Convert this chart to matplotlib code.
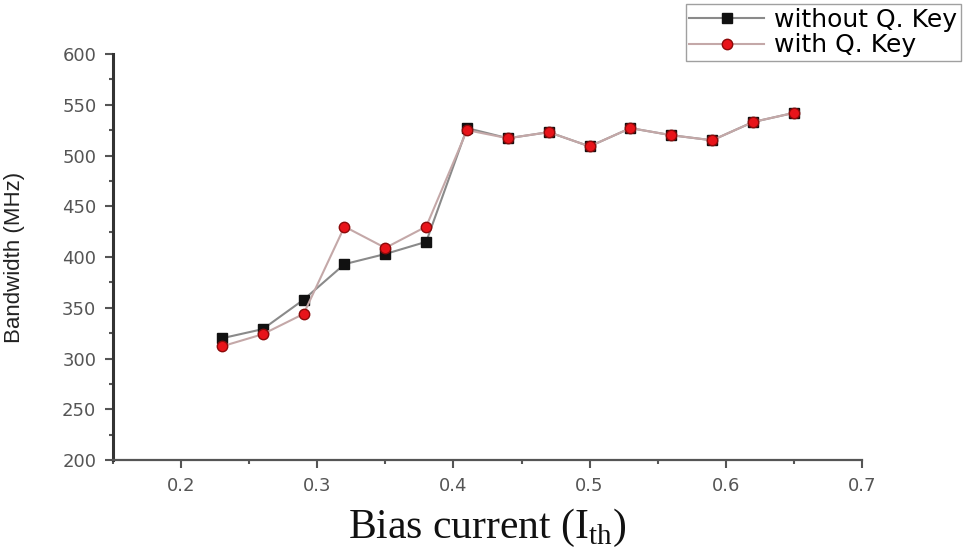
import numpy as np
import matplotlib.pyplot as plt
from matplotlib.ticker import MultipleLocator

# bias current in units of threshold current
bias = [0.23, 0.26, 0.29, 0.32, 0.35, 0.38, 0.41, 0.44,
        0.47, 0.50, 0.53, 0.56, 0.59, 0.62, 0.65]

# modulation bandwidth (MHz)
bw_without_key = [320, 329, 358, 393, 403, 415, 527, 517,
                  523, 509, 527, 520, 515, 533, 542]
bw_with_key = [312, 324, 344, 430, 409, 430, 525, 517,
               523, 509, 527, 520, 515, 533, 542]

x_ticks = [0.2, 0.3, 0.4, 0.5, 0.6, 0.7]
y_ticks = [200, 250, 300, 350, 400, 450, 500, 550, 600]


def main():
    plt.rcParams['font.family'] = ['DejaVu Sans']
    plt.rcParams['mathtext.fontset'] = 'custom'
    plt.rcParams['mathtext.rm'] = 'Liberation Serif'

    fig = plt.figure(figsize=(9.74, 5.51), dpi=100)
    ax = fig.add_axes([0.116, 0.165, 0.769, 0.737])

    ax.plot(bias, bw_without_key, "-", color="#8a8a8a", lw=1.5,
            marker="s", ms=6.5, mfc="#111111", mec="#111111",
            label="without Q. Key", zorder=2)
    ax.plot(bias, bw_with_key, "-", color="#c4a8a8", lw=1.5,
            marker="o", ms=7.5, mfc="#e8141a", mec="#8c0a0a", mew=1.0,
            label="with Q. Key", zorder=3)

    ax.set_xlim(0.15, 0.7)
    ax.set_ylim(200, 600)
    ax.set_xticks(x_ticks)
    ax.set_yticks(y_ticks)
    ax.xaxis.set_minor_locator(MultipleLocator(0.05))
    ax.yaxis.set_minor_locator(MultipleLocator(25))

    for side in ["top", "right"]:
        ax.spines[side].set_visible(False)
    ax.spines["left"].set_linewidth(2.2)
    ax.spines["left"].set_color("#333333")
    ax.spines["bottom"].set_linewidth(1.6)
    ax.spines["bottom"].set_color("#555555")

    ax.tick_params(which="major", direction="out", length=6, width=1.5,
                   colors="#555555", labelsize=13, labelcolor="#555555",
                   pad=6)
    ax.tick_params(which="minor", direction="out", length=3, width=1.5,
                   colors="#555555")

    ax.set_ylabel("Bandwidth (MHz)", fontsize=16, color="#222222",
                  fontfamily="Liberation Sans")
    ax.yaxis.set_label_coords(-0.117, 0.5)
    ax.set_xlabel(r"Bias current (I$_{\mathrm{th}}$)", fontsize=30,
                  fontfamily="Liberation Serif", color="#111111")
    ax.xaxis.set_label_coords(0.5, -0.115)

    fig.legend(loc="upper left", bbox_to_anchor=(0.704, 0.992),
               borderaxespad=0, fontsize=18, frameon=True, fancybox=False,
               edgecolor="#888888", borderpad=0.15, handlelength=3.0,
               labelspacing=0.05, handletextpad=0.4)

    fig.savefig("out.png", dpi=100)


if __name__ == "__main__":
    main()
